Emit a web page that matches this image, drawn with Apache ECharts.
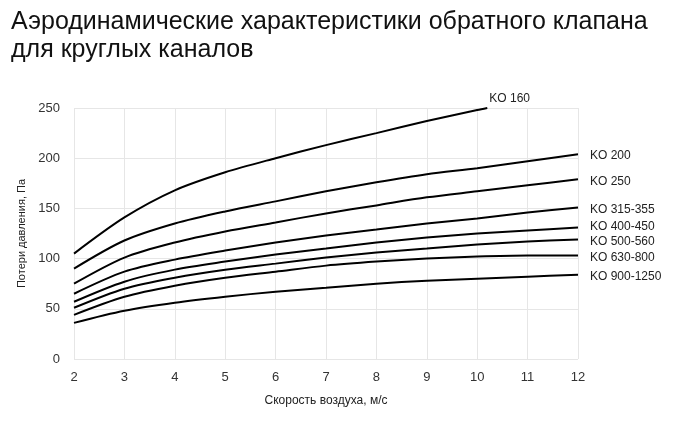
<!DOCTYPE html>
<html>
<head>
<meta charset="utf-8">
<script src="https://cdn.jsdelivr.net/npm/echarts@6/dist/echarts.min.js"></script>
<style>body{margin:0;background:#fff}#chart{width:700px;height:435px}</style>
</head>
<body>
<div id="chart"></div>
<script>
var speeds = [2, 3, 4, 5, 6, 7, 8, 9, 10, 11, 12];
var names = ['KO 160', 'KO 200', 'KO 250', 'KO 315-355', 'KO 400-450', 'KO 500-560', 'KO 630-800', 'KO 900-1250'];
var ko160 = [105, 141, 168, 186, 200, 213, 225, 237, 248];
var ko160End = [10.2, 250];
var ko200 = [90, 118, 135, 147, 157, 167, 176, 184, 190, 197, 204];
var ko250 = [75, 101, 116, 127, 136, 145, 153, 161, 167, 173, 179];
var ko315 = [65, 87, 99, 108, 116, 123, 129, 135, 140, 146, 151];
var ko400 = [57, 77, 89, 97, 104, 110, 116, 121, 125, 128, 131];
var ko500 = [51, 70, 81, 89, 95, 101, 106, 110, 114, 117, 119];
var ko630 = [44, 62, 73, 81, 87, 93, 97, 100, 102, 103, 103];
var ko900 = [36, 48, 56, 62, 67, 71, 75, 78, 80, 82, 84];

var values = [ko160, ko200, ko250, ko315, ko400, ko500, ko630, ko900];
var labelDy = [0, 2, 2, 2, -1, 2, 2, 2];

var chart = echarts.init(document.getElementById('chart'));
var series = values.map(function (v, i) {
  var pts = v.map(function (y, j) { return [speeds[j], y]; });
  if (i === 0) pts.push(ko160End);
  return {
    name: names[i],
    type: 'line',
    smooth: 0.3,
    symbol: 'none',
    data: pts,
    lineStyle: { color: '#000', width: 2 },
    endLabel: {
      show: true,
      formatter: names[i],
      color: '#222',
      fontSize: 12,
      fontFamily: 'Liberation Sans',
      distance: i === 0 ? 0 : 12,
      offset: i === 0 ? [2, -9] : [0, labelDy[i]]
    }
  };
});

chart.setOption({
  animation: false,
  title: {
    text: 'Аэродинамические характеристики обратного клапана\nдля круглых каналов',
    left: 6, top: 3,
    textStyle: { fontSize: 25, fontWeight: 'normal', color: '#111', fontFamily: 'Liberation Sans', lineHeight: 28 }
  },
  grid: { left: 74, right: 122, top: 108, bottom: 76 },
  xAxis: {
    type: 'value', min: 2, max: 12, interval: 1,
    name: 'Скорость воздуха, м/с', nameLocation: 'middle', nameGap: 36,
    nameTextStyle: { fontSize: 12, color: '#222', fontFamily: 'Liberation Sans' },
    axisLine: { show: false }, axisTick: { show: false },
    axisLabel: { fontSize: 13, color: '#333', fontFamily: 'Liberation Sans', margin: 12 },
    splitLine: { show: true, lineStyle: { color: '#e6e6e6' } }
  },
  yAxis: {
    type: 'value', min: 0, max: 250, interval: 50,
    name: 'Потери давления, Па', nameLocation: 'middle', nameGap: 44,
    nameTextStyle: { fontSize: 11, color: '#222', fontFamily: 'Liberation Sans' },
    axisLine: { show: false }, axisTick: { show: false },
    axisLabel: { fontSize: 13, color: '#333', fontFamily: 'Liberation Sans', margin: 14 },
    splitLine: { show: true, lineStyle: { color: '#e6e6e6' } }
  },
  series: series
});
</script>
</body>
</html>
